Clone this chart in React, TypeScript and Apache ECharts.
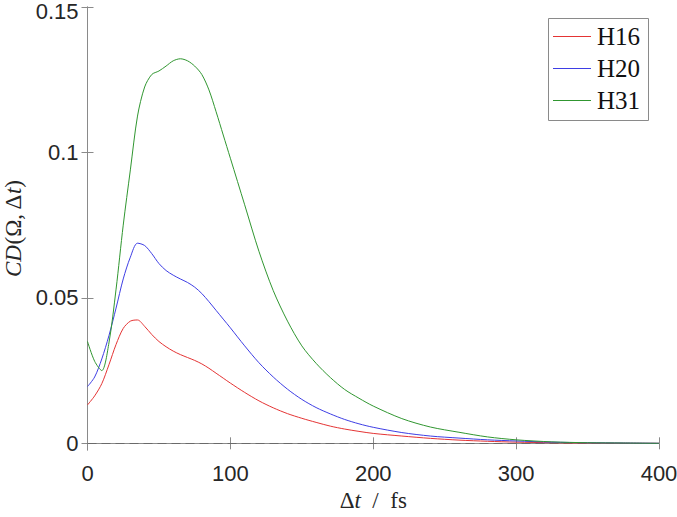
import React, { useEffect, useRef } from "react";
import * as echarts from "echarts";

const timeFs = [0, 5, 10, 15, 20, 25, 30, 35, 40, 45, 50, 55, 60, 65, 70, 75, 80, 85, 90, 95, 100, 110, 120, 130, 140, 150, 160, 170, 180, 190, 200, 220, 240, 260, 280, 300, 325, 350, 375, 400];

const h16 = [0.0132, 0.0163, 0.0205, 0.027, 0.034, 0.0395, 0.042, 0.0424, 0.0402, 0.0374, 0.035, 0.0332, 0.0317, 0.0305, 0.0295, 0.0285, 0.0273, 0.0258, 0.0241, 0.0224, 0.0207, 0.0175, 0.0146, 0.0122, 0.0102, 0.0086, 0.0072, 0.0059, 0.0049, 0.0041, 0.0034, 0.0025, 0.0017, 0.0011, 0.0007, 0.0004, 0.0002, 0.0001, 0.00005, 0];

const h20 = [0.0195, 0.0228, 0.029, 0.037, 0.0465, 0.0565, 0.064, 0.0688, 0.068, 0.0652, 0.0618, 0.0594, 0.0578, 0.0565, 0.0553, 0.0537, 0.0515, 0.0487, 0.0457, 0.0427, 0.0397, 0.0335, 0.0277, 0.0228, 0.0186, 0.0151, 0.0123, 0.0101, 0.0082, 0.0067, 0.0055, 0.0037, 0.0025, 0.0018, 0.0012, 0.0008, 0.0004, 0.0002, 0.0001, 0];

const h31 = [0.035, 0.0282, 0.025, 0.0345, 0.053, 0.075, 0.094, 0.1125, 0.1225, 0.1268, 0.128, 0.1297, 0.1315, 0.1322, 0.1315, 0.1297, 0.1268, 0.1215, 0.114, 0.106, 0.098, 0.082, 0.066, 0.0525, 0.042, 0.0335, 0.0275, 0.0226, 0.0185, 0.0155, 0.0128, 0.0085, 0.0056, 0.0038, 0.0022, 0.0012, 0.0005, 0.0002, 0.0001, 0];

const seriesNames = ["H16", "H20", "H31"];
const seriesColors = ["rgb(228,52,52)", "rgb(62,62,228)", "rgb(48,150,48)"];
const xTicks = [0, 100, 200, 300, 400];
const yTicks = [0, 0.05, 0.1, 0.15];

const AXIS_GRAY = "#8a8a8a";
const TEXT_DARK = "#262626";

export default function App() {
  const ref = useRef<HTMLDivElement>(null);

  useEffect(() => {
    if (!ref.current) return;
    const chart = echarts.init(ref.current, undefined, { renderer: "svg" });
    const values = [h16, h20, h31];
    const serifRich = {
      n: { fontFamily: "Liberation Serif", fontSize: 23, color: TEXT_DARK },
      i: { fontFamily: "Liberation Serif", fontSize: 23, fontStyle: "italic", color: TEXT_DARK },
    };
    const axisCommon = {
      axisLine: { show: true, lineStyle: { color: AXIS_GRAY, width: 1 } },
      axisTick: { show: true, inside: true, length: 6, lineStyle: { color: AXIS_GRAY, width: 1 } },
      splitLine: { show: false },
    };
    const series: any[] = values.map((v, k) => ({
      name: seriesNames[k],
      type: "line",
      data: timeFs.map((t, j) => [t, v[j]]),
      showSymbol: false,
      symbol: "none",
      smooth: 0.3,
      lineStyle: { color: seriesColors[k], width: 1 },
      itemStyle: { color: seriesColors[k] },
      z: 3,
    }));
    series[0].markLine = {
      silent: true,
      symbol: ["none", "none"],
      label: { show: false },
      lineStyle: { color: "#6a6a6a", type: [9, 5], width: 1 },
      data: [{ yAxis: 0 }],
      z: 1,
    };
    const maxY = yTicks[yTicks.length - 1];

    // legend drawn as graphic (box, line samples, names)
    const legendLeft = 548;
    const legendTop = 18;
    const rowH = 32;
    const legendChildren: any[] = [
      {
        type: "rect",
        shape: { x: legendLeft + 0.5, y: legendTop + 0.5, width: 100, height: 102 },
        style: { fill: "#ffffff", stroke: AXIS_GRAY, lineWidth: 1 },
      },
    ];
    seriesNames.forEach((n, k) => {
      const cy = legendTop + 18 + k * rowH;
      legendChildren.push({
        type: "line",
        shape: { x1: legendLeft + 5, y1: cy + 0.5, x2: legendLeft + 43, y2: cy + 0.5 },
        style: { stroke: seriesColors[k], lineWidth: 1 },
      });
      legendChildren.push({
        type: "text",
        x: legendLeft + 49,
        y: cy,
        style: {
          text: n,
          fontFamily: "Liberation Serif",
          fontSize: 25,
          fill: "#111",
          verticalAlign: "middle",
          align: "left",
        },
      });
    });

    chart.setOption({
      animation: false,
      backgroundColor: "#ffffff",
      color: seriesColors,
      grid: { left: 87.5, top: 7, right: 18, bottom: 67, containLabel: false, outerBoundsMode: "none" },
      graphic: [{ type: "group", z: 100, children: legendChildren }],
      xAxis: [
        {
          type: "value",
          min: 0,
          max: 400,
          interval: 100,
          position: "bottom",
          ...axisCommon,
          axisLabel: { show: true, margin: 12, color: TEXT_DARK, fontFamily: "Liberation Sans", fontSize: 22, customValues: xTicks },
          axisTick: { ...axisCommon.axisTick, customValues: xTicks },
          name: "{n|Δ}{i|t}{n|  /  fs}",
          nameLocation: "middle",
          nameGap: 37,
          nameTextStyle: { rich: serifRich },
        },
        {
          type: "value",
          min: 0,
          max: 400,
          interval: 100,
          position: "top",
          ...axisCommon,
          axisLabel: { show: false },
        },
      ],
      yAxis: [
        {
          type: "value",
          min: -0.0023,
          max: 0.15,
          position: "left",
          ...axisCommon,
          axisLabel: {
            show: true,
            margin: 9,
            color: TEXT_DARK,
            fontFamily: "Liberation Sans",
            fontSize: 22,
            customValues: yTicks,
            formatter: (v: number) => {
              const s = String(Math.round(v * 1000) / 1000);
              return Math.abs(v - maxY) < 1e-9 ? "{top|" + s + "}" : s;
            },
            rich: {
              top: { fontFamily: "Liberation Sans", fontSize: 22, color: TEXT_DARK, padding: [8, 0, 0, 0] },
            },
          },
          axisTick: { ...axisCommon.axisTick, customValues: yTicks },
          name: "{i|CD}{n|(Ω, Δ}{i|t}{n|)}",
          nameLocation: "middle",
          nameGap: 62,
          nameRotate: 90,
          nameTextStyle: { rich: serifRich },
        },
        {
          type: "value",
          min: -0.0023,
          max: 0.15,
          position: "right",
          ...axisCommon,
          axisLabel: { show: false },
          axisTick: { ...axisCommon.axisTick, customValues: yTicks },
        },
      ],
      series,
    });
    return () => chart.dispose();
  }, []);

  return (
    <div
      ref={ref}
      style={{ position: "fixed", left: 0, top: 0, width: 677, height: 517, background: "#fff" }}
    />
  );
}
